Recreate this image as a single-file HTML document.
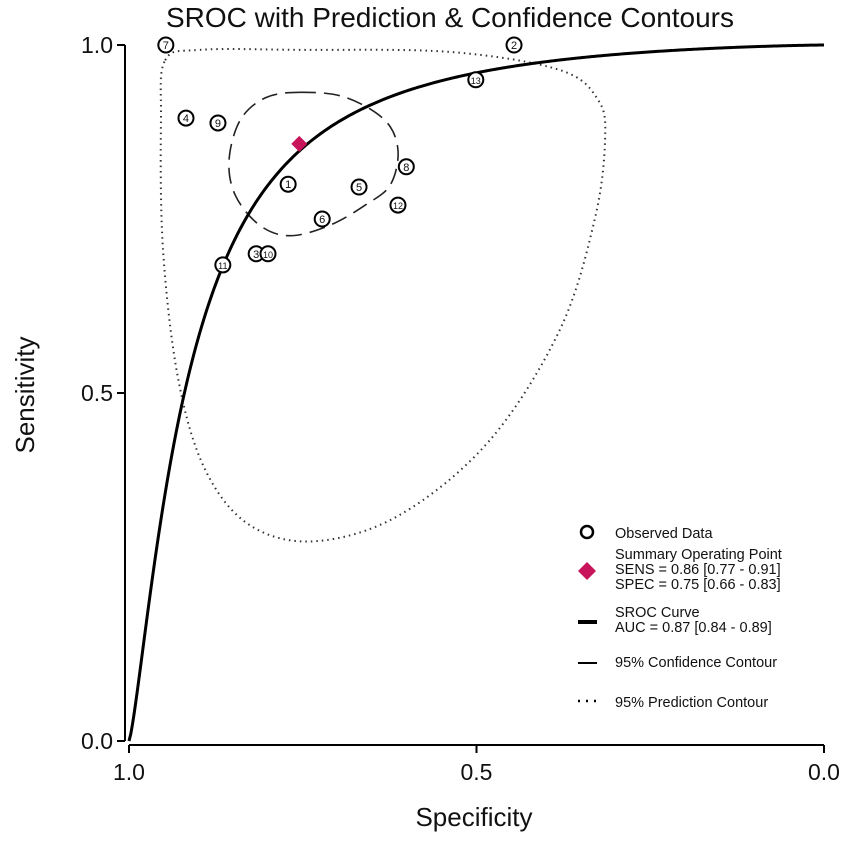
<!DOCTYPE html>
<html><head><meta charset="utf-8"><style>
body{margin:0;background:#fff}
svg text{font-family:"Liberation Sans",Arial,sans-serif;fill:#111}
</style></head><body>
<svg id="c" width="851" height="838" viewBox="0 0 851 838">
<text x="450" y="27" font-size="28" text-anchor="middle">SROC with Prediction &amp; Confidence Contours</text>
<g id="axes"></g>
<g id="plot"></g>
<g id="legend"></g>
</svg>
<script>
const studyIds=[1,2,3,4,5,6,7,8,9,10,11,12,13];
const studySpec=[0.771,0.446,0.817,0.918,0.669,0.722,0.947,0.601,0.872,0.800,0.865,0.613,0.501];
const studySens=[0.800,1.000,0.700,0.895,0.796,0.750,1.000,0.825,0.888,0.700,0.684,0.770,0.950];
const summarySpec=0.755, summarySens=0.858;
const srocAlpha=3.18, srocBeta=1.3;
const confSpec=[0.754,0.689,0.632,0.613,0.624,0.660,0.711,0.768,0.812,0.847,0.856,0.840,0.804];
const confSens=[0.932,0.925,0.892,0.849,0.799,0.770,0.741,0.726,0.741,0.784,0.835,0.892,0.924];
const predSpec=[0.948,0.898,0.754,0.538,0.380,0.325,0.315,0.330,0.380,0.481,0.610,0.732,0.826,0.890,0.929,0.951,0.954];
const predSens=[0.978,0.993,0.993,0.990,0.964,0.921,0.864,0.749,0.591,0.432,0.325,0.287,0.310,0.389,0.519,0.705,0.892];
const tickVals=[1.0,0.5,0.0];
const tickLabels=["1.0","0.5","0.0"];

const NS="http://www.w3.org/2000/svg";
const X=s=>129+(1-s)*695, Y=v=>741-v*696;
function mk(tag,attrs,parent){const e=document.createElementNS(NS,tag);for(const k in attrs)e.setAttribute(k,attrs[k]);parent.appendChild(e);return e;}
const axes=document.getElementById('axes'), plot=document.getElementById('plot'), leg=document.getElementById('legend');

let e=mk('line',{x1:125,y1:45,x2:125,y2:741,stroke:'#000','stroke-width':2},axes);

e=mk('line',{x1:129,y1:745,x2:824,y2:745,stroke:'#000','stroke-width':2},axes);

tickVals.forEach((v,i)=>{
  mk('line',{x1:117,y1:Y(v),x2:125,y2:Y(v),stroke:'#000','stroke-width':2},axes);
  let t=mk('text',{x:113,y:Y(v)+8,'font-size':23,'text-anchor':'end'},axes);t.textContent=tickLabels[i];
  
  mk('line',{x1:X(v),y1:745,x2:X(v),y2:753,stroke:'#000','stroke-width':2},axes);
  t=mk('text',{x:X(v),y:780,'font-size':23,'text-anchor':'middle'},axes);t.textContent=tickLabels[i];
  
});
e=mk('text',{x:474,y:826,'font-size':26,'text-anchor':'middle'},axes);e.textContent='Specificity';

e=mk('text',{x:0,y:0,'font-size':26,'text-anchor':'middle',transform:'translate(34,395) rotate(-90)'},axes);e.textContent='Sensitivity';


function closedPath(sx,sy){
  const p=sx.map((s,i)=>[X(s),Y(sy[i])]);const n=p.length;
  let d=`M${p[0][0]},${p[0][1]}`;
  for(let i=0;i<n;i++){const p0=p[(i-1+n)%n],p1=p[i],p2=p[(i+1)%n],p3=p[(i+2)%n];
    d+=` C${p1[0]+(p2[0]-p0[0])/6},${p1[1]+(p2[1]-p0[1])/6} ${p2[0]-(p3[0]-p1[0])/6},${p2[1]-(p3[1]-p1[1])/6} ${p2[0]},${p2[1]}`;}
  return d+'Z';
}
e=mk('path',{d:closedPath(predSpec,predSens),fill:'none',stroke:'#333','stroke-width':2,'stroke-dasharray':'1.5 4'},plot);

e=mk('path',{d:closedPath(confSpec,confSens),fill:'none',stroke:'#222','stroke-width':1.6,'stroke-dasharray':'16 8'},plot);


let d='';
for(let i=0;i<=400;i++){const f=Math.max(1e-6,Math.min(1,i/400));const lf=Math.log(f/(1-f+1e-9));
  const ls=srocAlpha+srocBeta*lf;const s=1/(1+Math.exp(-ls));d+=(i?'L':'M')+X(1-f)+','+Y(i===0?0:s);}
e=mk('path',{d:d,fill:'none',stroke:'#000','stroke-width':3},plot);


studyIds.forEach((id,i)=>{
  const g=mk('g',{},plot);
  
  mk('circle',{cx:X(studySpec[i]),cy:Y(studySens[i]),r:7.5,fill:'#fff',stroke:'#000','stroke-width':2},g);
  const t=mk('text',{x:X(studySpec[i]),y:Y(studySens[i])+4,'font-size':id>9?9:11,'text-anchor':'middle'},g);t.textContent=id;
});
const sx=X(summarySpec),sy=Y(summarySens);
e=mk('path',{d:`M${sx},${sy-8} L${sx+8},${sy} L${sx},${sy+8} L${sx-8},${sy}Z`,fill:'#c8145a'},plot);


e=mk('circle',{cx:587,cy:532,r:6,fill:'#fff',stroke:'#000','stroke-width':2.5},leg);
e=mk('path',{d:'M587,562 L596,571 L587,580 L578,571Z',fill:'#c8145a'},leg);
mk('rect',{x:578,y:620,width:19,height:4,fill:'#000'},leg);
mk('rect',{x:578,y:662,width:19,height:2,fill:'#000'},leg);
mk('path',{d:'M578,701 h2 M586,701 h2 M594,701 h2',stroke:'#000','stroke-width':2.5},leg);
const legLines=[["Observed Data",538],["Summary Operating Point",559],["SENS = 0.86 [0.77 - 0.91]",574],["SPEC = 0.75 [0.66 - 0.83]",589],["SROC Curve",617],["AUC = 0.87 [0.84 - 0.89]",632],["95% Confidence Contour",667],["95% Prediction Contour",707]];
legLines.forEach(([s,y])=>{const t=mk('text',{x:615,y:y,'font-size':14.5},leg);t.textContent=s;
  });
</script>
</body></html>
